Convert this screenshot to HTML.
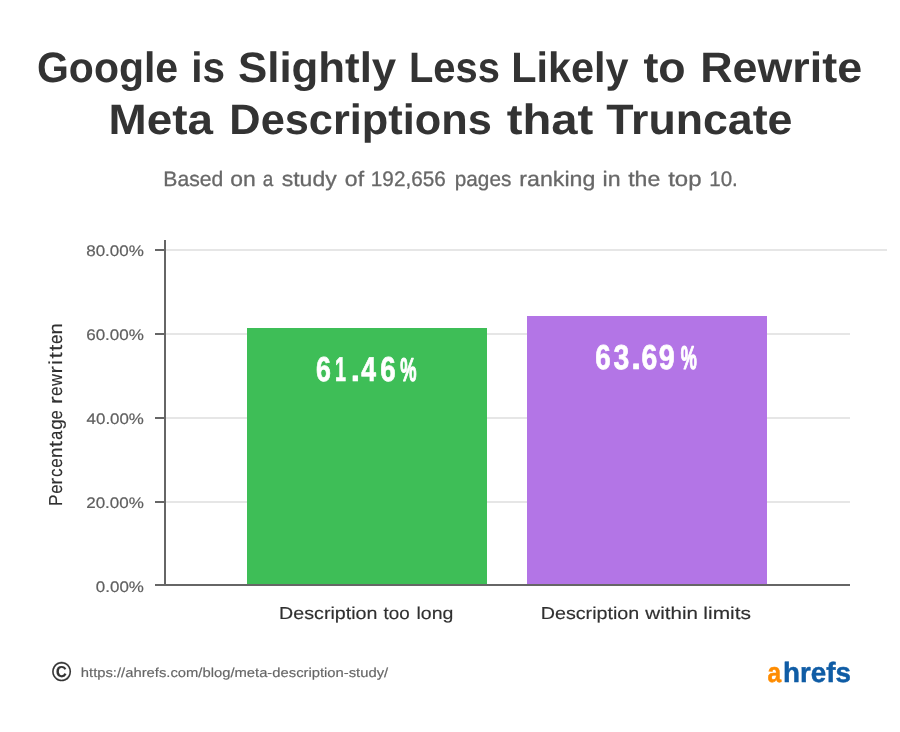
<!DOCTYPE html>
<html lang="en">
<head>
<meta charset="utf-8">
<title>Google is Slightly Less Likely to Rewrite Meta Descriptions that Truncate</title>
<style>
html,body{margin:0;padding:0;background:#fff;}
body{width:900px;height:732px;overflow:hidden;}
svg{display:block;}
text{font-family:"Liberation Sans",sans-serif;text-rendering:geometricPrecision;}
.title{font-size:42.5px;font-weight:bold;fill:#333333;}
.sub{font-size:21px;font-weight:normal;fill:#686868;stroke:#686868;stroke-width:0.3px;stroke-linejoin:round;}
.tick{font-size:15.3px;font-weight:normal;fill:#606060;stroke:#606060;stroke-width:0.2px;stroke-linejoin:round;}
.axl{font-size:17.3px;font-weight:normal;fill:#303030;stroke:#303030;stroke-width:0.15px;stroke-linejoin:round;}
.yl{font-size:18.8px;font-weight:normal;fill:#303030;stroke:#303030;stroke-width:0.15px;stroke-linejoin:round;}
.val{font-size:34.5px;font-weight:bold;fill:#ffffff;stroke:#ffffff;stroke-width:0.7px;stroke-linejoin:round;}
.pct{font-size:33px;font-weight:bold;fill:#ffffff;stroke:#ffffff;stroke-width:1.2px;stroke-linejoin:round;}
.url{font-size:13px;font-weight:normal;fill:#666666;stroke:#666666;stroke-width:0.15px;stroke-linejoin:round;}
.copy{font-size:27.4px;font-weight:bold;fill:#333333;stroke:#333333;stroke-width:0.15px;stroke-linejoin:round;}
.logoa{font-size:28px;font-weight:bold;fill:#ff8c00;stroke:#ff8c00;stroke-width:0.5px;stroke-linejoin:round;}
.logob{font-size:28px;font-weight:bold;fill:#0f5ca5;stroke:#0f5ca5;stroke-width:0.5px;stroke-linejoin:round;}
</style>
</head>
<body>
<svg width="900" height="732" viewBox="0 0 900 732">
<rect width="900" height="732" fill="#fff"/>
<!-- gridlines -->
<rect x="166" y="249" width="721" height="2" fill="#e6e6e6"/>
<rect x="166" y="333" width="684" height="2" fill="#e6e6e6"/>
<rect x="166" y="417" width="684" height="2" fill="#e6e6e6"/>
<rect x="166" y="501" width="684" height="2" fill="#e6e6e6"/>
<!-- bars -->
<rect x="247" y="328" width="240" height="256" fill="#3ebe57"/>
<rect x="527" y="316" width="240" height="268" fill="#b375e6"/>
<!-- axes -->
<rect x="164" y="240" width="2" height="346" fill="#666"/>
<rect x="155" y="584" width="695" height="2" fill="#666"/>
<rect x="155" y="249" width="9" height="2" fill="#666"/>
<rect x="155" y="333" width="9" height="2" fill="#666"/>
<rect x="155" y="417" width="9" height="2" fill="#666"/>
<rect x="155" y="501" width="9" height="2" fill="#666"/>

<text class="title" y="82"><tspan x="37.01" textLength="141.15" lengthAdjust="spacingAndGlyphs">Google</tspan> <tspan x="191.14" textLength="33.78" lengthAdjust="spacingAndGlyphs">is</tspan> <tspan x="238.01" textLength="158.23" lengthAdjust="spacingAndGlyphs">Slightly</tspan> <tspan x="409.0" textLength="90.94" lengthAdjust="spacingAndGlyphs">Less</tspan> <tspan x="511.2" textLength="117.34" lengthAdjust="spacingAndGlyphs">Likely</tspan> <tspan x="643.47" textLength="42.24" lengthAdjust="spacingAndGlyphs">to</tspan> <tspan x="700.27" textLength="161.81" lengthAdjust="spacingAndGlyphs">Rewrite</tspan></text>
<text class="title" y="134"><tspan x="108.6" textLength="104.4" lengthAdjust="spacingAndGlyphs">Meta</tspan> <tspan x="229.37" textLength="262.48" lengthAdjust="spacingAndGlyphs">Descriptions</tspan> <tspan x="506.74" textLength="86.55" lengthAdjust="spacingAndGlyphs">that</tspan> <tspan x="606.17" textLength="186.32" lengthAdjust="spacingAndGlyphs">Truncate</tspan></text>
<text class="sub" y="186"><tspan x="163.36" textLength="59.91" lengthAdjust="spacingAndGlyphs">Based</tspan> <tspan x="230.18" textLength="25.46" lengthAdjust="spacingAndGlyphs">on</tspan> <tspan x="262.63" textLength="10.51" lengthAdjust="spacingAndGlyphs">a</tspan> <tspan x="281.75" textLength="54.9" lengthAdjust="spacingAndGlyphs">study</tspan> <tspan x="344.88" textLength="19.16" lengthAdjust="spacingAndGlyphs">of</tspan> <tspan x="370.82" textLength="74.97" lengthAdjust="spacingAndGlyphs">192,656</tspan> <tspan x="454.77" textLength="56.52" lengthAdjust="spacingAndGlyphs">pages</tspan> <tspan x="519.32" textLength="76.08" lengthAdjust="spacingAndGlyphs">ranking</tspan> <tspan x="602.62" textLength="18.04" lengthAdjust="spacingAndGlyphs">in</tspan> <tspan x="628.16" textLength="32.05" lengthAdjust="spacingAndGlyphs">the</tspan> <tspan x="668.16" textLength="33.35" lengthAdjust="spacingAndGlyphs">top</tspan> <tspan x="709.23" textLength="28.55" lengthAdjust="spacingAndGlyphs">10.</tspan></text>
<text class="tick" y="256"><tspan x="86.21" textLength="57.67" lengthAdjust="spacingAndGlyphs">80.00%</tspan></text>
<text class="tick" y="340"><tspan x="86.21" textLength="57.67" lengthAdjust="spacingAndGlyphs">60.00%</tspan></text>
<text class="tick" y="424"><tspan x="86.62" textLength="57.24" lengthAdjust="spacingAndGlyphs">40.00%</tspan></text>
<text class="tick" y="508"><tspan x="86.21" textLength="57.67" lengthAdjust="spacingAndGlyphs">20.00%</tspan></text>
<text class="tick" y="592"><tspan x="95.85" textLength="48.01" lengthAdjust="spacingAndGlyphs">0.00%</tspan></text>
<text class="axl" y="619"><tspan x="279.14" textLength="98.29" lengthAdjust="spacingAndGlyphs">Description</tspan> <tspan x="383.53" textLength="26.08" lengthAdjust="spacingAndGlyphs">too</tspan> <tspan x="416.53" textLength="36.87" lengthAdjust="spacingAndGlyphs">long</tspan></text>
<text class="axl" y="619"><tspan x="540.73" textLength="98.49" lengthAdjust="spacingAndGlyphs">Description</tspan> <tspan x="645.35" textLength="52.62" lengthAdjust="spacingAndGlyphs">within</tspan> <tspan x="703.34" textLength="47.7" lengthAdjust="spacingAndGlyphs">limits</tspan></text>
<text class="yl" aria-label="Percentage rewritten" transform="translate(62.05 505.3) rotate(-90)" y="0"><tspan x="-0.78" textLength="11.51" lengthAdjust="spacingAndGlyphs">P</tspan><tspan x="11.44" textLength="9.18" lengthAdjust="spacingAndGlyphs">e</tspan><tspan x="20.45" textLength="6.94" lengthAdjust="spacingAndGlyphs">r</tspan><tspan x="28.32" textLength="8.54" lengthAdjust="spacingAndGlyphs">c</tspan><tspan x="37.62" textLength="9.52" lengthAdjust="spacingAndGlyphs">e</tspan><tspan x="47.28" textLength="10.42" lengthAdjust="spacingAndGlyphs">n</tspan><tspan x="58.18" textLength="6.26" lengthAdjust="spacingAndGlyphs">t</tspan><tspan x="65.62" textLength="8.89" lengthAdjust="spacingAndGlyphs">a</tspan><tspan x="75.55" textLength="10.45" lengthAdjust="spacingAndGlyphs">g</tspan><tspan x="85.74" textLength="9.18" lengthAdjust="spacingAndGlyphs">e</tspan><tspan x="95" textLength="4" lengthAdjust="spacingAndGlyphs"> </tspan><tspan x="101.22" textLength="7.52" lengthAdjust="spacingAndGlyphs">r</tspan><tspan x="109.22" textLength="9.52" lengthAdjust="spacingAndGlyphs">e</tspan><tspan x="119.41" textLength="11.85" lengthAdjust="spacingAndGlyphs">w</tspan><tspan x="131.78" textLength="7.33" lengthAdjust="spacingAndGlyphs">r</tspan><tspan x="140.42" textLength="5.02" lengthAdjust="spacingAndGlyphs">i</tspan><tspan x="146.93" textLength="6.26" lengthAdjust="spacingAndGlyphs">t</tspan><tspan x="154.43" textLength="6.26" lengthAdjust="spacingAndGlyphs">t</tspan><tspan x="161.42" textLength="9.41" lengthAdjust="spacingAndGlyphs">e</tspan><tspan x="170.88" textLength="11.32" lengthAdjust="spacingAndGlyphs">n</tspan></text>
<text class="val" aria-label="61.46%" y="381"><tspan x="316.12" textLength="14.91" lengthAdjust="spacingAndGlyphs">6</tspan><tspan x="335.03" textLength="11.0" lengthAdjust="spacingAndGlyphs">1</tspan><tspan x="350.67" textLength="9.24" lengthAdjust="spacingAndGlyphs">.</tspan><tspan x="361.3" textLength="14.75" lengthAdjust="spacingAndGlyphs">4</tspan><tspan x="380.19" textLength="15.46" lengthAdjust="spacingAndGlyphs">6</tspan><tspan class="pct" x="400.16" textLength="16.26" lengthAdjust="spacingAndGlyphs">%</tspan></text>
<text class="val" aria-label="63.69%" y="369"><tspan x="595.19" textLength="15.46" lengthAdjust="spacingAndGlyphs">6</tspan><tspan x="613.49" textLength="15.78" lengthAdjust="spacingAndGlyphs">3</tspan><tspan x="631.16" textLength="9.77" lengthAdjust="spacingAndGlyphs">.</tspan><tspan x="641.48" textLength="15.79" lengthAdjust="spacingAndGlyphs">6</tspan><tspan x="658.87" textLength="16.01" lengthAdjust="spacingAndGlyphs">9</tspan><tspan class="pct" x="680.66" textLength="16.06" lengthAdjust="spacingAndGlyphs">%</tspan></text>
<text class="logob" aria-label="ahrefs" y="682.2"><tspan class="logoa" x="767.45" textLength="13.68" lengthAdjust="spacingAndGlyphs">a</tspan><tspan x="783.07" textLength="67.77" lengthAdjust="spacingAndGlyphs">hrefs</tspan></text>
<text class="copy" y="681"><tspan x="51.73" textLength="19.67" lengthAdjust="spacingAndGlyphs">©</tspan></text>
<text class="url" y="677"><tspan x="80.8" textLength="307.38" lengthAdjust="spacingAndGlyphs">https://ahrefs.com/blog/meta-description-study/</tspan></text>

</svg>
</body>
</html>
